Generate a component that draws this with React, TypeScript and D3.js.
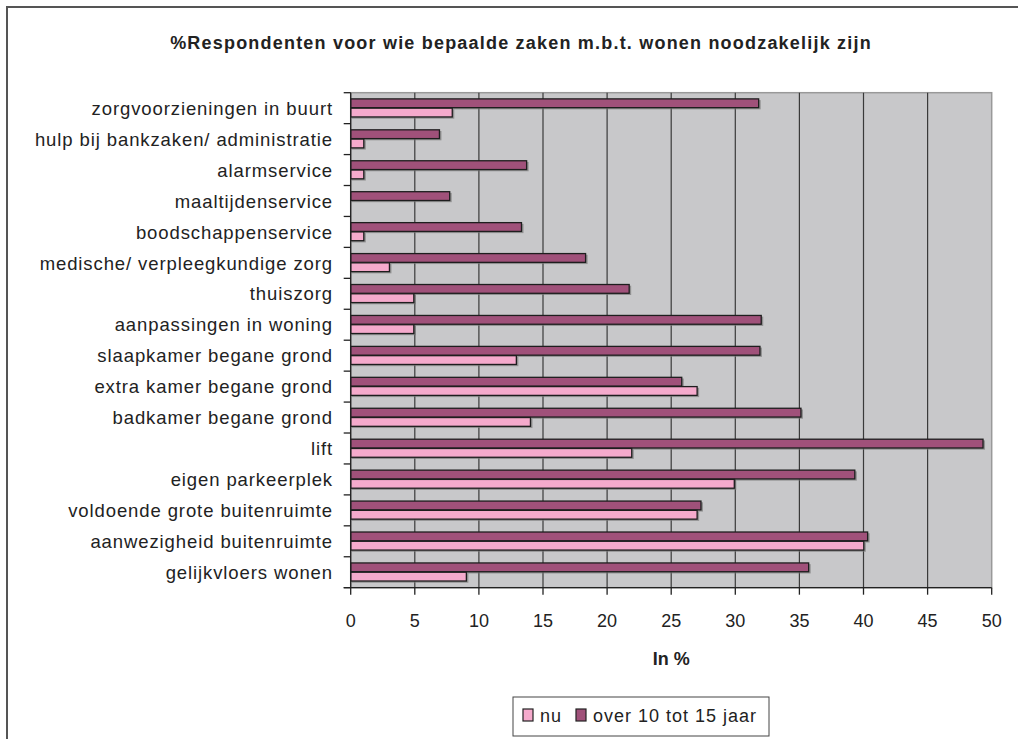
import React from "react";
import * as d3 from "d3";

const categories = [
  "zorgvoorzieningen in buurt",
  "hulp bij bankzaken/ administratie",
  "alarmservice",
  "maaltijdenservice",
  "boodschappenservice",
  "medische/ verpleegkundige zorg",
  "thuiszorg",
  "aanpassingen in woning",
  "slaapkamer begane grond",
  "extra kamer begane grond",
  "badkamer begane grond",
  "lift",
  "eigen parkeerplek",
  "voldoende grote buitenruimte",
  "aanwezigheid buitenruimte",
  "gelijkvloers wonen ",
];
const nuValues = [8.0, 1.1, 1.1, 0, 1.1, 3.1, 5.0, 5.0, 13.0, 27.1, 14.1, 22.0, 30.0, 27.1, 40.1, 9.1];
const overValues = [31.9, 7.0, 13.8, 7.8, 13.4, 18.4, 21.8, 32.1, 32.0, 25.9, 35.2, 49.4, 39.4, 27.4, 40.4, 35.8];
const seriesNames = ["nu", "over 10 tot 15 jaar"];
const xTicks = [0, 5, 10, 15, 20, 25, 30, 35, 40, 45, 50];
const title = "%Respondenten voor wie bepaalde zaken m.b.t. wonen noodzakelijk zijn";
const xTitle = "In %";

const W = 1018;
const H = 739;
const left = 350.7;
const right = 991.7;
const top = 92.7;
const bottom = 587.7;
const FONT = "'Liberation Sans', Arial, sans-serif";
const NU_COLOR = "#F5AACC";
const OVER_COLOR = "#A0517A";

export default function App() {
  const x = d3.scaleLinear().domain([0, 50]).range([left, right]);
  const y = d3.scaleBand<string>().domain(categories).range([top, bottom]).paddingInner(0.4).paddingOuter(0.2);
  const sub = d3.scaleBand<string>().domain(["over", "nu"]).range([0, y.bandwidth()]);
  const step = y.step();

  const bars: { key: string; cat: string; v: number; s: string; color: string }[] = [];
  categories.forEach((c, i) => {
    bars.push({ key: c + "o", cat: c, v: overValues[i], s: "over", color: OVER_COLOR });
    bars.push({ key: c + "n", cat: c, v: nuValues[i], s: "nu", color: NU_COLOR });
  });

  return (
    <svg width={W} height={H} style={{ position: "absolute", left: 0, top: 0, background: "#fff" }} fontFamily={FONT}>
      <rect x={0} y={0} width={W} height={H} fill="#fff" />
      {/* outer frame */}
      <path d={`M7,${H + 5} L7,7 L${W + 5},7`} fill="none" stroke="#555" strokeWidth={2} />
      {/* title */}
      <text x={521} y={49} textAnchor="middle" fontWeight="bold" fontSize={18} letterSpacing={1.2} fill="#222">
        {title}
      </text>
      {/* plot area */}
      <rect x={left} y={top} width={right - left} height={bottom - top} fill="#C8C8CA" stroke="#999" strokeWidth={1.5} />
      {/* gridlines */}
      {xTicks.slice(1, -1).map((t) => (
        <line key={"g" + t} x1={x(t)} x2={x(t)} y1={top} y2={bottom} stroke="#3a3a3a" strokeWidth={1.2} />
      ))}
      {/* bars */}
      {bars.map((b) => {
        const yy = (y(b.cat) as number) + (sub(b.s) as number);
        const h = sub.bandwidth();
        const w = x(b.v) - x(0);
        if (b.v <= 0) return null;
        return (
          <g key={b.key}>
            <rect x={x(0) + 1} y={yy + 1.2} width={w} height={h} fill="#777" opacity={0.7} />
            <rect x={x(0)} y={yy} width={w - 1} height={h - 0.5} fill={b.color} stroke="#1e1e1e" strokeWidth={1.3} />
          </g>
        );
      })}
      {/* axes */}
      <line x1={left} x2={left} y1={top} y2={bottom} stroke="#222" strokeWidth={1.3} />
      <line x1={left - 7} x2={right} y1={bottom} y2={bottom} stroke="#222" strokeWidth={1.3} />
      {d3.range(categories.length + 1).map((i) => (
        <line key={"yt" + i} x1={left - 7} x2={left} y1={top + i * step} y2={top + i * step} stroke="#222" strokeWidth={1.3} />
      ))}
      {xTicks.map((t) => (
        <g key={"xt" + t}>
          <line x1={x(t)} x2={x(t)} y1={bottom} y2={bottom + 7} stroke="#222" strokeWidth={1.3} />
          <text x={x(t)} y={627} textAnchor="middle" fontSize={18} fill="#222">
            {t}
          </text>
        </g>
      ))}
      {/* category labels */}
      {categories.map((c) => (
        <text
          key={"l" + c}
          x={333}
          y={(y(c) as number) + y.bandwidth() / 2}
          dy="0.36em"
          textAnchor="end"
          fontSize={18.5}
          letterSpacing={0.9}
          fill="#222"
        >
          {c}
        </text>
      ))}
      {/* x title */}
      <text x={(left + right) / 2} y={665} textAnchor="middle" fontWeight="bold" fontSize={18} fill="#222">
        {xTitle}
      </text>
      {/* legend */}
      <rect x={513} y={697} width={256} height={39} fill="#fff" stroke="#444" strokeWidth={1} />
      <rect x={523} y={709} width={10} height={12} fill={NU_COLOR} stroke="#222" strokeWidth={1.2} />
      <text x={540} y={722} fontSize={18} letterSpacing={1} fill="#222">
        {seriesNames[0]}
      </text>
      <rect x={576} y={709} width={10} height={12} fill={OVER_COLOR} stroke="#222" strokeWidth={1.2} />
      <text x={593} y={722} fontSize={18} letterSpacing={1} fill="#222">
        {seriesNames[1]}
      </text>
    </svg>
  );
}
